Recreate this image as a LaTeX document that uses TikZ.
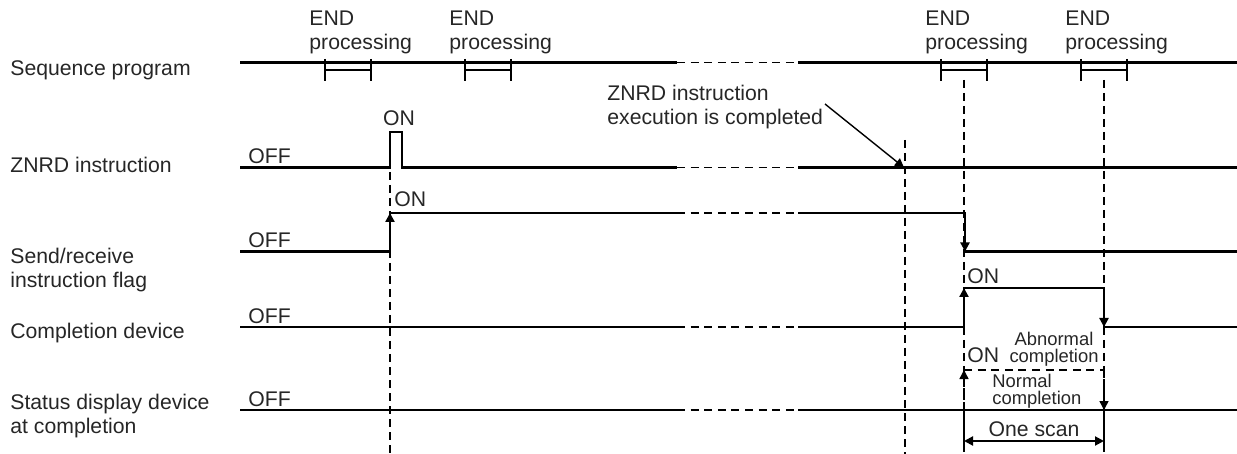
\documentclass[tikz,border=0pt]{standalone}
\usepackage{fontspec}
\setmainfont{Liberation Sans}
\usetikzlibrary{arrows.meta}

\begin{document}
\begin{tikzpicture}[
    x=0.5pt, y=-0.5pt,
    lbl/.style={font=\fontsize{10.6}{12}\selectfont, inner sep=0pt, anchor=base west, align=left, text=black!85},
    small/.style={font=\fontsize{9.2}{8.5}\selectfont, inner sep=0pt, anchor=base west, align=left, text=black!85},
    sig/.style={line width=1.3pt},
    gap/.style={line width=0.7pt, dash pattern=on 4pt off 2.8pt},
    guide/.style={line width=0.6pt, dash pattern=on 4pt off 2.5pt},
    tick/.style={line width=1.2pt},
    tip/.style={-{Triangle[length=4.5pt, width=4.5pt]}},
    tips/.style={{Triangle[length=4.5pt, width=4.5pt]}-{Triangle[length=4.5pt, width=4.5pt]}}
]
    \useasboundingbox (0,0) rectangle (1237,454);

    % Row labels
    \node[lbl] (seq) at (10,75.5) {Sequence program};
    \node[lbl] (znrd) at (10,173) {ZNRD instruction};
    \node[lbl] (flag) at (10,288) {Send/receive\\instruction flag};
    \node[lbl] (comp) at (10,338) {Completion device};
    \node[lbl] (stat) at (10,433) {Status display device\\at completion};

    % Guide lines
    \draw[guide] (390,172) -- (390,454);
    \draw[guide] (905,140) -- (905,454);
    \draw[guide] (964,80) -- (964,410);
    \draw[guide] (1104,80) -- (1104,410);

    % Sequence program
    \draw[sig] (240,62.5) -- (677,62.5);
    \draw[gap] (677,62.5) -- (798,62.5);
    \draw[sig] (798,62.5) -- (1237,62.5);
    \foreach \x/\n in {325/end1, 465/end2, 941/end3, 1081/end4} {
        \draw[tick] (\x,59) -- (\x,81) (\x+46,59) -- (\x+46,81) (\x,70) -- (\x+46,70);
        \node[lbl] (\n) at (\x-16,50) {END\\processing};
    }

    % OFF labels
    \foreach \y/\n in {167.5/off1, 251.5/off2, 327/off3, 410/off4}
        \node[lbl] (\n) at (248,\y-4) {OFF};

    % ZNRD instruction
    \draw[sig] (240,167.5) -- (390,167.5) -- (390,132) -- (402,132) -- (402,167.5) -- (677,167.5);
    \draw[gap] (677,167.5) -- (798,167.5);
    \draw[sig] (798,167.5) -- (1237,167.5);
    \node[lbl, anchor=base] (on1) at (399,126) {ON};
    \node[lbl] (note) at (607,125) {ZNRD instruction\\execution is completed};
    \coordinate (ann) at (825,104);
    \coordinate (done) at (904,167.5);
    \draw[line width=0.7pt, tip] (ann) -- (done);

    % Send/receive instruction flag
    \draw[sig] (240,251.5) -- (390,251.5) -- (390,213) -- (677,213);
    \draw[gap] (677,213) -- (798,213);
    \draw[sig] (798,213) -- (965,213) -- (965,251.5) -- (1237,251.5);
    \draw[sig, tip] (390,235) -- (390,213);
    \draw[sig, tip] (965,230) -- (965,251.5);
    \node[lbl] (on2) at (394,207) {ON};

    % Completion device
    \draw[sig] (240,327) -- (677,327);
    \draw[gap] (677,327) -- (798,327);
    \draw[sig] (798,327) -- (964,327) -- (964,288) -- (1104,288) -- (1104,327) -- (1237,327);
    \draw[sig, tip] (964,310) -- (964,288);
    \draw[sig, tip] (1104,305) -- (1104,327);
    \node[lbl] (on3) at (967,284) {ON};

    % Status display device
    \draw[sig] (240,410) -- (677,410);
    \draw[gap] (677,410) -- (798,410);
    \draw[sig] (798,410) -- (1237,410);
    \draw[gap, tip] (964,410) -- (964,370);
    \draw[gap] (964,370) -- (1104,370);
    \draw[gap, tip] (1104,370) -- (1104,410);
    \node[lbl] (on4) at (967,362) {ON};
    \node[small, align=center, anchor=base] (abn) at (1054,362) {Abnormal\\completion};
    \node[small] (nrm) at (992,404) {Normal\\completion};

    % One scan
    \draw[tick] (964,410) -- (964,452) (1104,410) -- (1104,452);
    \draw[line width=1pt, tips] (964,441) -- (1104,441);
    \node[lbl, anchor=base] (scan) at (1034,436) {One scan};
\end{tikzpicture}
\end{document}
